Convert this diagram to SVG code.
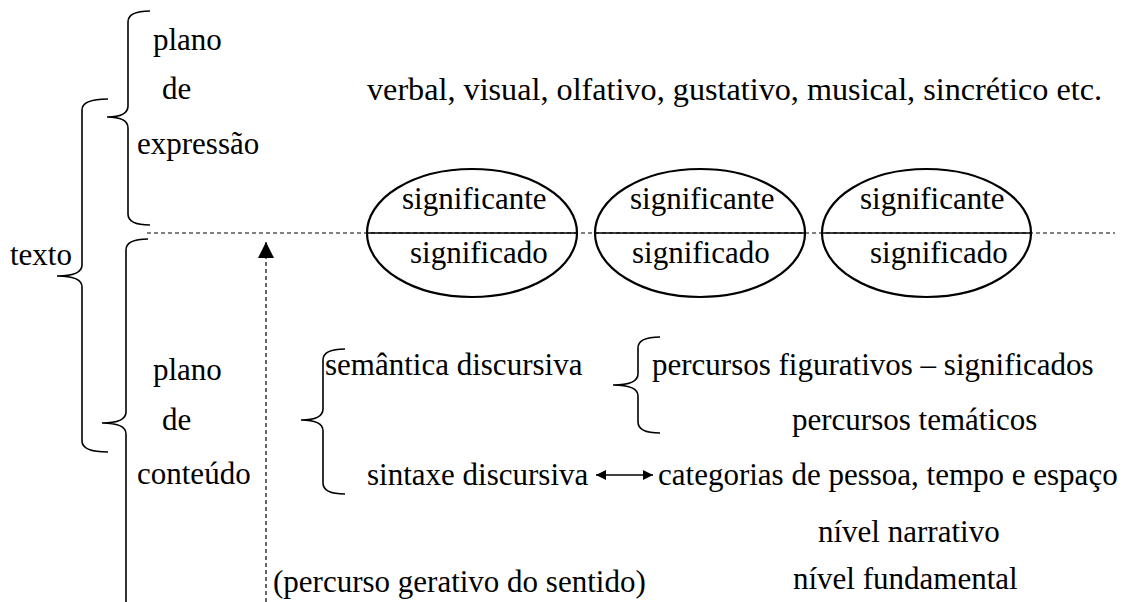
<svg xmlns="http://www.w3.org/2000/svg" width="1137" height="602" viewBox="0 0 1137 602">
<style>
.t{font-family:'Liberation Serif','Times New Roman',Times,serif;font-size:31px;fill:#000}
.br{fill:none;stroke:#000;stroke-width:1.6}
.dash{fill:none;stroke:#000;stroke-width:1.2;stroke-dasharray:4 3}
.el{fill:none;stroke:#000;stroke-width:2.2}
.sol{stroke:#000;stroke-width:1.6}
</style>
<defs>
<marker id="ah" viewBox="0 0 10 10" refX="10" refY="5" markerWidth="11" markerHeight="10" markerUnits="userSpaceOnUse" orient="auto-start-reverse"><path d="M0,0 L10,5 L0,10 z" fill="#000"/></marker>
<marker id="ahv" viewBox="0 0 16 16" refX="16" refY="8" markerWidth="16" markerHeight="16" markerUnits="userSpaceOnUse" orient="auto"><path d="M0,0 L16,8 L0,16 z" fill="#000"/></marker>
</defs>
<rect width="1137" height="602" fill="#fff"/>
<g id="connectors">
<line class="dash" x1="147" y1="233" x2="1115" y2="233"/>
<line class="dash" x1="266" y1="602" x2="266" y2="242" marker-end="url(#ahv)"/>
<line class="sol" x1="596" y1="475" x2="653" y2="475" marker-start="url(#ah)" marker-end="url(#ah)"/>
</g>
<g id="braces">
<path id="brace-expressao" class="br" d="M150,11 Q128,11 128,22 L128,106 Q128,117 107,117 Q128,117 128,128 L128,214 Q128,225 150,225"/>
<path id="brace-texto" class="br" d="M108,99 Q82,99 82,110 L82,265 Q82,276 57,276 Q82,276 82,287 L82,441 Q82,452 108,452"/>
<path id="brace-conteudo" class="br" d="M148,239 Q126,239 126,250 L126,412 Q126,423 102,423 Q126,423 126,434 L126,602"/>
<path id="brace-niveis" class="br" d="M345,349 Q323,349 323,360 L323,409 Q323,420 301,420 Q323,420 323,431 L323,483 Q323,494 345,494"/>
<path id="brace-semantica" class="br" d="M660,337 Q638,337 638,348 L638,374 Q638,385 613,385 Q638,385 638,396 L638,422 Q638,433 660,433"/>
</g>
<g class="t" font-family="Liberation Serif, serif">
<g id="texto"><text x="10" y="265">texto</text></g>
<g id="plano-expressao">
<text x="153" y="50">plano</text>
<text x="162" y="99">de</text>
<text x="137" y="154">expressão</text>
</g>
<g id="expressao-tipos"><text x="367" y="100" textLength="735" lengthAdjust="spacingAndGlyphs">verbal, visual, olfativo, gustativo, musical, sincrético etc.</text></g>
<g id="signo1">
<ellipse class="el" cx="472" cy="233" rx="105" ry="64"/>
<line class="sol" x1="367" y1="233" x2="577" y2="233"/>
<text x="402" y="209">significante</text>
<text x="410" y="263">significado</text>
</g>
<g id="signo2">
<ellipse class="el" cx="700" cy="233" rx="105" ry="64"/>
<line class="sol" x1="595" y1="233" x2="805" y2="233"/>
<text x="630" y="209">significante</text>
<text x="632" y="263">significado</text>
</g>
<g id="signo3">
<ellipse class="el" cx="926.5" cy="233" rx="104.5" ry="64"/>
<line class="sol" x1="822" y1="233" x2="1031" y2="233"/>
<text x="860" y="209">significante</text>
<text x="870" y="263">significado</text>
</g>
<g id="plano-conteudo">
<text x="153" y="380">plano</text>
<text x="162" y="430">de</text>
<text x="137" y="484">conteúdo</text>
</g>
<g id="semantica"><text x="325" y="375">semântica discursiva</text></g>
<g id="sintaxe"><text x="367" y="485">sintaxe discursiva</text></g>
<g id="figurativos"><text x="652" y="375">percursos figurativos – significados</text></g>
<g id="tematicos"><text x="792" y="430">percursos temáticos</text></g>
<g id="categorias"><text x="658" y="485">categorias de pessoa, tempo e espaço</text></g>
<g id="narrativo"><text x="818" y="542">nível narrativo</text></g>
<g id="percurso"><text x="273" y="592">(percurso gerativo do sentido)</text></g>
<g id="fundamental"><text x="793" y="589">nível fundamental</text></g>
</g>
</svg>
